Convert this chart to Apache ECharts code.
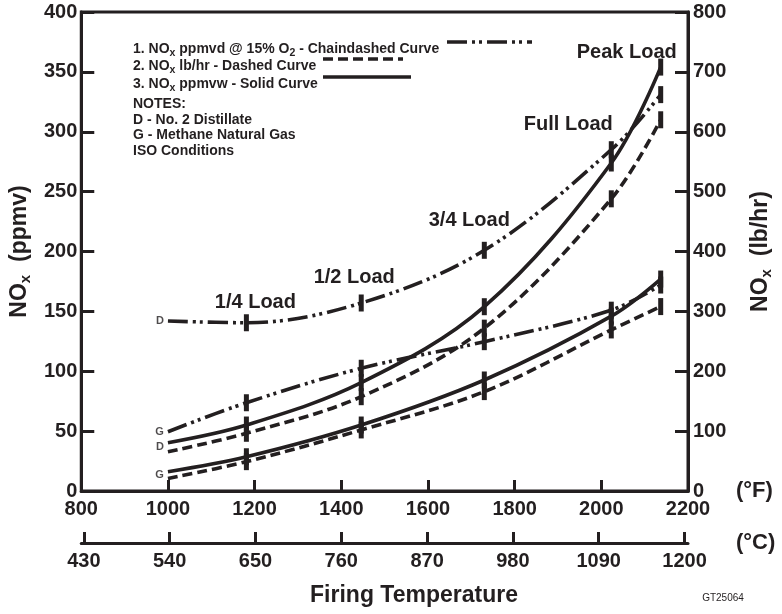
<!DOCTYPE html>
<html><head><meta charset="utf-8">
<script src="https://cdn.jsdelivr.net/npm/echarts@6/dist/echarts.min.js"></script>
<style>html,body{margin:0;padding:0;background:#fff}#c{width:782px;height:614px}</style>
</head><body><div id="c"></div>
<script>
// ---------- data ----------
const tempsF = [1000, 1181, 1446, 1730, 2023, 2137];           // firing temperature, °F
const loadNames = ['', '1/4 Load', '1/2 Load', '3/4 Load', 'Full Load', 'Peak Load'];
const ppmvdD = [142, 140.5, 157, 201, 285, 331];               // chaindashed, distillate (ppmv)
const ppmvdG = [49.5, 73.7, 102.5, 124.7, 151, 172];           // chaindashed, gas (ppmv)
const ppmvwD = [40.3, 55.1, 90.5, 153.9, 273.9, 354];          // solid, distillate (ppmv)
const ppmvwG = [16.1, 28.6, 55.1, 92.7, 146, 177];             // solid, gas (ppmv)
const lbhrD  = [65.6, 96.4, 157.5, 272, 488, 620];             // dashed, distillate (lb/hr)
const lbhrG  = [21, 49, 102, 166, 269, 308];                   // dashed, gas (lb/hr)
const fuelTags = ['D', 'G', 'D', 'G'];
const fTicks = [800, 1000, 1200, 1400, 1600, 1800, 2000, 2200];
const cTicks = [430, 540, 650, 760, 870, 980, 1090, 1200];
const ppmvTicks = [0, 50, 100, 150, 200, 250, 300, 350, 400];
const lbhrTicks = [0, 100, 200, 300, 400, 500, 600, 700, 800];
const legendRows = [
  '{m|1. NO}{s|x}{m| ppmvd @ 15% O}{s|2}{m| - Chaindashed Curve}',
  '{m|2. NO}{s|x}{m| lb/hr - Dashed Curve}',
  '{m|3. NO}{s|x}{m| ppmvw - Solid Curve}',
  '{m|NOTES:}',
  '{m|D - No. 2 Distillate}',
  '{m|G - Methane Natural Gas}',
  '{m|ISO Conditions}'
];

// ---------- styles ----------
const C = '#231f20';
const FF = '"Liberation Sans", Arial, sans-serif';
const CHAIN = [20, 5, 3, 4, 3, 5];
const DASH = [10, 5];
const fToC = f => (f - 32) / 1.8;

const pts = arr => tempsF.map((t, i) => [t, arr[i]]);
function curve(name, arr, type, yIdx) {
  return { type: 'line', name, data: pts(arr), yAxisIndex: yIdx, smooth: 0.35,
    symbol: 'none', silent: true, z: 3,
    lineStyle: { color: C, width: 3.6, type, cap: 'butt', opacity: 1 } };
}
function marks(arr, yIdx, withLoadLabels) {
  const offs = [[9, -20], [-7, -26], [-15, -30], [-43, -25], [-34, -42]];
  return { type: 'scatter', yAxisIndex: yIdx, symbol: 'rect', symbolSize: [5, 17], z: 4, silent: true,
    itemStyle: { color: C, opacity: 1 },
    data: tempsF.slice(1).map((t, i) => ({
      value: [t, arr[i + 1]],
      label: withLoadLabels ? { show: true, position: 'inside', offset: offs[i], formatter: loadNames[i + 1],
        color: C, opacity: 1, fontFamily: FF, fontWeight: 'bold', fontSize: 20 } : { show: false }
    })) };
}
const tagData = [
  [tempsF[0], ppmvdD[0]],
  [tempsF[0], ppmvdG[0]],
  [tempsF[0], (ppmvwD[0] + lbhrD[0] / 2) / 2],
  [tempsF[0], (ppmvwG[0] + lbhrG[0] / 2) / 2]
];

const subRich = (m, s, pad) => ({
  m: { fontSize: m, fontWeight: 'bold', fontFamily: FF, color: C, verticalAlign: 'middle' },
  s: { fontSize: s, fontWeight: 'bold', fontFamily: FF, color: C, verticalAlign: 'middle', padding: [pad, 0, 0, 0] }
});

const labelStyle = { color: C, fontFamily: FF, fontWeight: 'bold', fontSize: 20 };

const legendY = [42, 59, 77, 97, 113, 128, 144];
const graphics = legendRows.map((r, i) => ({
  type: 'text', left: 133, top: legendY[i], silent: true,
  style: { text: r, rich: subRich(14, 10.5, 9), verticalAlign: 'middle', fill: C }
}));
graphics.push(
  { type: 'line', silent: true, shape: { x1: 447, y1: 42, x2: 532, y2: 42 }, style: { stroke: C, lineWidth: 3.6, lineDash: CHAIN } },
  { type: 'line', silent: true, shape: { x1: 323, y1: 59, x2: 403, y2: 59 }, style: { stroke: C, lineWidth: 3.6, lineDash: DASH } },
  { type: 'line', silent: true, shape: { x1: 323, y1: 77, x2: 411, y2: 77 }, style: { stroke: C, lineWidth: 3.6 } },
  { type: 'text', silent: true, x: 723, y: 598, style: { text: 'GT25064', fill: C, font: '10px ' + FF, align: 'center', verticalAlign: 'middle' } },
  { type: 'text', silent: true, x: 414, y: 596,
    style: { text: 'Firing Temperature', fill: C, font: 'bold 23px ' + FF, align: 'center', verticalAlign: 'middle' } }
);

const chart = echarts.init(document.getElementById('c'));
chart.setOption({
  animation: false,
  backgroundColor: '#fff',
  grid: { left: 80, right: 89, top: 12, bottom: 123, show: true, borderColor: C, borderWidth: 3, containLabel: false },
  xAxis: [
    { type: 'value', min: fTicks[0], max: fTicks[fTicks.length - 1], interval: 200,
      position: 'bottom',
      axisLine: { show: true, lineStyle: { color: C, width: 3 } },
      axisTick: { show: true, inside: true, length: 11, lineStyle: { color: C, width: 3 } },
      axisLabel: { ...labelStyle, margin: 8, formatter: v => String(v) },
      splitLine: { show: false },
      name: '(°F)', nameLocation: 'end', nameGap: 48,
      nameTextStyle: { color: C, fontFamily: FF, fontWeight: 'bold', fontSize: 22, padding: [34, 0, 0, 0] } },
    { type: 'value', min: fToC(fTicks[0]), max: fToC(fTicks[fTicks.length - 1]),
      position: 'bottom', offset: 52,
      axisLine: { show: true, onZero: false, lineStyle: { color: C, width: 3 } },
      axisTick: { show: true, inside: true, length: 11, customValues: cTicks, lineStyle: { color: C, width: 3 } },
      axisLabel: { ...labelStyle, margin: 8, customValues: cTicks, formatter: v => String(v) },
      splitLine: { show: false },
      name: '(°C)', nameLocation: 'end', nameGap: 48,
      nameTextStyle: { color: C, fontFamily: FF, fontWeight: 'bold', fontSize: 22, padding: [34, 0, 0, 0] } }
  ],
  yAxis: [
    { type: 'value', min: ppmvTicks[0], max: ppmvTicks[ppmvTicks.length - 1], interval: 50, position: 'left',
      axisLine: { show: true, lineStyle: { color: C, width: 3 } },
      axisTick: { show: true, inside: true, length: 13, lineStyle: { color: C, width: 3 } },
      axisLabel: { ...labelStyle, margin: 4 },
      splitLine: { show: false },
      name: '{m|NO}{s|x}{m|  (ppmv)}', nameLocation: 'middle', nameRotate: 90, nameGap: 47,
      nameTextStyle: { rich: subRich(23, 15, 12) } },
    { type: 'value', min: lbhrTicks[0], max: lbhrTicks[lbhrTicks.length - 1], interval: 100, position: 'right',
      axisLine: { show: true, lineStyle: { color: C, width: 3 } },
      axisTick: { show: true, inside: true, length: 13, lineStyle: { color: C, width: 3 } },
      axisLabel: { ...labelStyle, margin: 5 },
      splitLine: { show: false },
      name: '{m|NO}{s|x}{m|  (lb/hr)}', nameLocation: 'middle', nameRotate: 90, nameGap: 59,
      nameTextStyle: { rich: subRich(23, 15, 12) } }
  ],
  series: [
    curve('ppmvd D', ppmvdD, CHAIN, 0),
    curve('ppmvd G', ppmvdG, CHAIN, 0),
    curve('ppmvw D', ppmvwD, 'solid', 0),
    curve('ppmvw G', ppmvwG, 'solid', 0),
    curve('lbhr D', lbhrD, DASH, 1),
    curve('lbhr G', lbhrG, DASH, 1),
    marks(ppmvdD, 0, true),
    marks(ppmvdG, 0, false),
    marks(ppmvwD, 0, false),
    marks(ppmvwG, 0, false),
    marks(lbhrD, 1, false),
    marks(lbhrG, 1, false),
    { type: 'scatter', silent: true, symbolSize: 0.1, itemStyle: { color: 'rgba(0,0,0,0)' }, z: 5,
      data: tagData.map((p, i) => ({ value: p, label: { show: true, position: 'left', distance: 4,
        formatter: fuelTags[i], color: C, fontFamily: FF, fontWeight: 'bold', fontSize: 11 } })) }
  ],
  graphic: graphics
});
</script></body></html>
